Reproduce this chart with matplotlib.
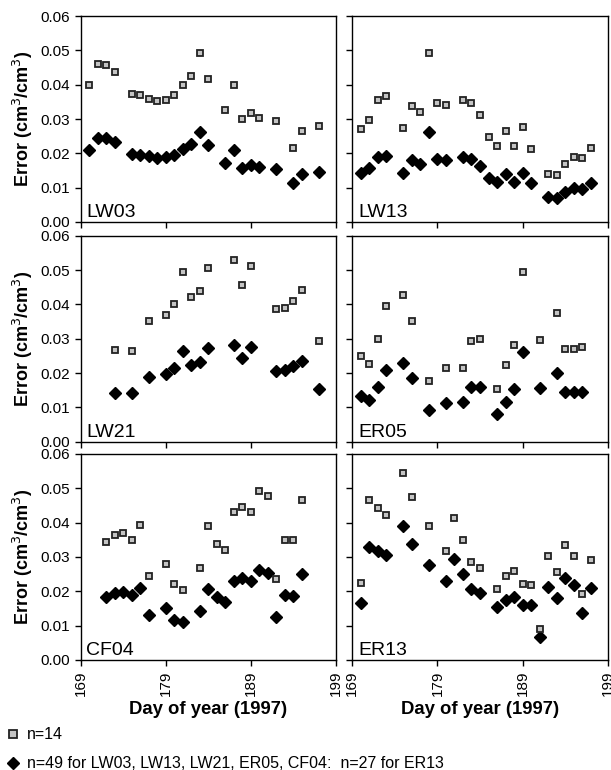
import matplotlib
matplotlib.use("Agg")
import matplotlib.pyplot as plt
from matplotlib.lines import Line2D

plt.rcParams["font.family"] = ["Liberation Sans", "DejaVu Sans"]

# ---- data ---------------------------------------------------------------
lw03_sq_day = [170, 171, 172, 173, 175, 176, 177, 178, 179, 180, 181, 182, 183, 184,
               186, 187, 188, 189, 190, 192, 194, 195, 197]
lw03_sq = [0.0398, 0.0460, 0.0457, 0.0436, 0.0373, 0.0370, 0.0359, 0.0352, 0.0354,
           0.0370, 0.0400, 0.0424, 0.0493, 0.0417, 0.0325, 0.0398, 0.0299, 0.0318,
           0.0304, 0.0294, 0.0216, 0.0264, 0.0279]
lw03_di_day = lw03_sq_day
lw03_di = [0.0211, 0.0246, 0.0244, 0.0233, 0.0198, 0.0196, 0.0191, 0.0186, 0.0189,
           0.0196, 0.0214, 0.0226, 0.0262, 0.0224, 0.0172, 0.0211, 0.0157, 0.0167,
           0.0160, 0.0153, 0.0113, 0.0140, 0.0146]

lw13_sq_day = [170, 171, 172, 173, 175, 176, 177, 178, 179, 180, 182, 183, 184, 185,
               186, 187, 188, 189, 190, 192, 193, 194, 195, 196, 197]
lw13_sq = [0.0270, 0.0298, 0.0356, 0.0368, 0.0275, 0.0337, 0.0319, 0.0492, 0.0347,
           0.0341, 0.0354, 0.0346, 0.0312, 0.0247, 0.0222, 0.0265, 0.0222, 0.0276,
           0.0213, 0.0141, 0.0137, 0.0169, 0.0188, 0.0185, 0.0216]
lw13_di_day = lw13_sq_day
lw13_di = [0.0144, 0.0157, 0.0188, 0.0193, 0.0144, 0.0180, 0.0169, 0.0261, 0.0183,
           0.0180, 0.0188, 0.0183, 0.0163, 0.0129, 0.0117, 0.0140, 0.0117, 0.0144,
           0.0113, 0.0072, 0.0069, 0.0087, 0.0099, 0.0096, 0.0113]

lw21_sq_day = [173, 175, 177, 179, 180, 181, 182, 183, 184, 187, 188, 189, 192, 193,
               194, 195, 197]
lw21_sq = [0.0267, 0.0265, 0.0351, 0.0369, 0.0401, 0.0493, 0.0420, 0.0438, 0.0507,
           0.0530, 0.0455, 0.0512, 0.0386, 0.0389, 0.0410, 0.0441, 0.0292]
lw21_di_day = lw21_sq_day
lw21_di = [0.0141, 0.0141, 0.0189, 0.0196, 0.0214, 0.0265, 0.0223, 0.0233, 0.0273,
           0.0283, 0.0245, 0.0275, 0.0206, 0.0208, 0.0219, 0.0236, 0.0153]

er05_sq_day = [170, 171, 172, 173, 175, 176, 178, 180, 182, 183, 184, 186, 187, 188,
               189, 191, 193, 194, 195, 196]
er05_sq = [0.0249, 0.0226, 0.0298, 0.0394, 0.0427, 0.0352, 0.0178, 0.0215, 0.0215,
           0.0294, 0.0299, 0.0152, 0.0222, 0.0283, 0.0493, 0.0295, 0.0376, 0.0271,
           0.0271, 0.0276]
er05_di_day = er05_sq_day
er05_di = [0.0132, 0.0120, 0.0158, 0.0208, 0.0228, 0.0186, 0.0091, 0.0113, 0.0115,
           0.0158, 0.0158, 0.0082, 0.0117, 0.0152, 0.0262, 0.0156, 0.0200, 0.0145,
           0.0145, 0.0146]

cf04_sq_day = [172, 173, 174, 175, 176, 177, 179, 180, 181, 183, 184, 185, 186, 187,
               188, 189, 190, 191, 192, 193, 194, 195]
cf04_sq = [0.0343, 0.0365, 0.0371, 0.0350, 0.0392, 0.0245, 0.0281, 0.0221, 0.0205,
           0.0268, 0.0390, 0.0339, 0.0320, 0.0431, 0.0446, 0.0431, 0.0492, 0.0479,
           0.0236, 0.0350, 0.0349, 0.0466]
cf04_di_day = cf04_sq_day
cf04_di = [0.0183, 0.0195, 0.0197, 0.0188, 0.0210, 0.0131, 0.0150, 0.0117, 0.0111,
           0.0142, 0.0208, 0.0183, 0.0170, 0.0230, 0.0239, 0.0230, 0.0263, 0.0254,
           0.0125, 0.0188, 0.0186, 0.0249]

er13_sq_day = [170, 171, 172, 173, 175, 176, 178, 180, 181, 182, 183, 184, 186, 187,
               188, 189, 190, 191, 192, 193, 194, 195, 196, 197]
er13_sq = [0.0225, 0.0466, 0.0443, 0.0423, 0.0544, 0.0474, 0.0390, 0.0317, 0.0413,
           0.0350, 0.0286, 0.0268, 0.0208, 0.0246, 0.0258, 0.0220, 0.0219, 0.0091,
           0.0302, 0.0257, 0.0335, 0.0302, 0.0193, 0.0290]
er13_di_day = er13_sq_day
er13_di = [0.0165, 0.0330, 0.0318, 0.0305, 0.0389, 0.0339, 0.0277, 0.0230, 0.0294,
           0.0249, 0.0206, 0.0194, 0.0154, 0.0174, 0.0183, 0.0161, 0.0161, 0.0068,
           0.0213, 0.0181, 0.0240, 0.0219, 0.0138, 0.0210]

sites = ["LW03", "LW13", "LW21", "ER05", "CF04", "ER13"]
sq_days = [lw03_sq_day, lw13_sq_day, lw21_sq_day, er05_sq_day, cf04_sq_day, er13_sq_day]
sq_vals = [lw03_sq, lw13_sq, lw21_sq, er05_sq, cf04_sq, er13_sq]
di_days = [lw03_di_day, lw13_di_day, lw21_di_day, er05_di_day, cf04_di_day, er13_di_day]
di_vals = [lw03_di, lw13_di, lw21_di, er05_di, cf04_di, er13_di]

x_ticks = [169, 179, 189, 199]
y_ticks = [0.00, 0.01, 0.02, 0.03, 0.04, 0.05, 0.06]

# ---- figure ---------------------------------------------------------------
fig = plt.figure(figsize=(6.11, 7.70), dpi=100)

lefts = [0.132, 0.5766]
bottoms = [0.7117, 0.4264, 0.1429]
w, h = 0.418, 0.2675

sq_style = dict(linestyle="none", marker="s", markersize=4.8, markerfacecolor="#c4c4c4",
                markeredgecolor="#222222", markeredgewidth=1.3)
di_style = dict(linestyle="none", marker="D", markersize=6.0, color="black")

for i, site in enumerate(sites):
    row, col = divmod(i, 2)
    ax = fig.add_axes([lefts[col], bottoms[row], w, h])
    ax.plot(di_days[i], di_vals[i], **di_style)
    ax.plot(sq_days[i], sq_vals[i], **sq_style)

    ax.set_xlim(169, 199)
    ax.set_ylim(0, 0.06)
    ax.set_xticks(x_ticks)
    ax.set_yticks(y_ticks)
    ax.tick_params(direction="out", length=4, width=1, labelsize=11)
    for s in ax.spines.values():
        s.set_linewidth(1)

    if col == 0:
        ax.set_yticklabels([f"{v:.2f}" for v in y_ticks])
        ax.set_ylabel("Error (cm$^3$/cm$^3$)", fontsize=13, fontweight="bold", labelpad=4)
    else:
        ax.set_yticklabels([])

    if row == 2:
        ax.set_xticklabels([str(t) for t in x_ticks], rotation=90)
        ax.set_xlabel("Day of year (1997)", fontsize=13.3, fontweight="bold", labelpad=4)
    else:
        ax.set_xticklabels([])

    ax.text(0.022, 0.022, site, transform=ax.transAxes, fontsize=14,
            va="baseline", ha="left")

# legend lines below the panels
handles = [Line2D([], [], **dict(sq_style, markersize=5.5)),
           Line2D([], [], **dict(di_style, markersize=6.0))]
labels = ["n=14", "n=49 for LW03, LW13, LW21, ER05, CF04:  n=27 for ER13"]
fig.legend(handles, labels, loc="upper left", bbox_to_anchor=(0.0, 0.064),
           frameon=False, fontsize=11.5, handlelength=0.8, handletextpad=0.5,
           labelspacing=0.9, borderaxespad=0)

fig.savefig("out.png", dpi=100)
